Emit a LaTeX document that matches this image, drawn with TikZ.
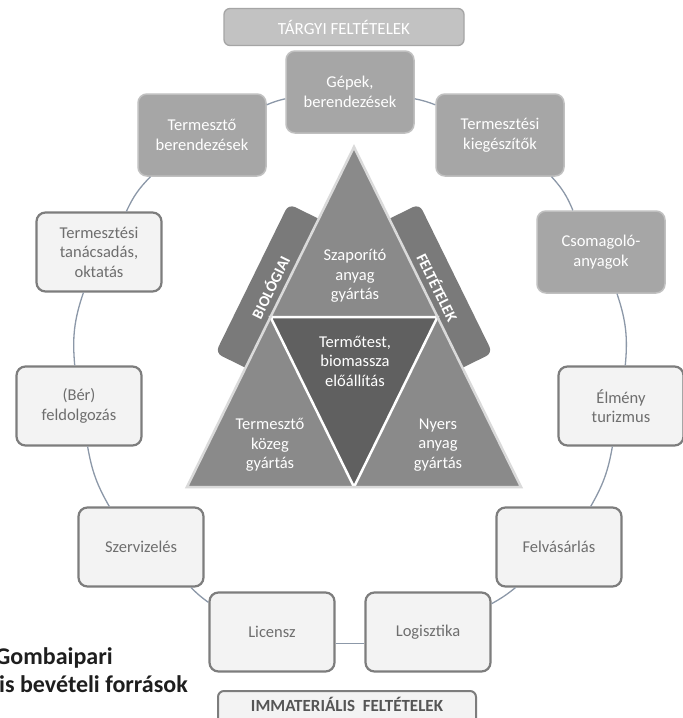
\documentclass[tikz,border=0pt]{standalone}
\usepackage{fontspec}
\setmainfont{Carlito}
\definecolor{matfill}{RGB}{166,166,166}
\definecolor{matline}{RGB}{192,192,192}
\definecolor{hdrfill}{RGB}{194,194,194}
\definecolor{hdrline}{RGB}{165,165,165}
\definecolor{imfill}{RGB}{243,243,243}
\definecolor{imline}{RGB}{125,125,125}
\definecolor{imtext}{RGB}{110,110,110}
\definecolor{imhead}{RGB}{85,85,85}
\definecolor{connc}{RGB}{140,152,168}
\definecolor{trimid}{RGB}{138,138,138}
\definecolor{tridark}{RGB}{96,96,96}
\definecolor{trioutline}{RGB}{218,218,218}
\definecolor{tabc}{RGB}{122,122,122}
\definecolor{titlec}{RGB}{30,30,30}
\newcommand{\bxfont}{\fontsize{16.5}{19.5}\selectfont}
\newcommand{\tbfont}{\fontsize{15.5}{18}\selectfont\bfseries}
\newcommand{\hdfont}{\fontsize{17}{19}\selectfont}
\newcommand{\imfont}{\fontsize{17}{19}\selectfont\bfseries}
\newcommand{\ttlfont}{\fontsize{24}{28}\selectfont\bfseries}
\begin{document}
\begin{tikzpicture}[x=1pt,y=1pt,
  mat/.style={rectangle, rounded corners=9pt, fill=matfill, draw=matline, line width=1.5pt,
    minimum width=128pt, minimum height=82pt, text=white, align=center, font=\bxfont, inner sep=2pt},
  imm/.style={rectangle, rounded corners=9pt, fill=imfill, draw=imline, line width=2.2pt,
    minimum width=125pt, minimum height=79pt, text=imtext, align=center, font=\bxfont, inner sep=2pt},
  conn/.style={draw=connc, line width=1.3pt},
  tritext/.style={text=white, align=center, font=\bxfont, inner sep=1pt},
  tabbox/.style={rectangle, rounded corners=7pt, fill=tabc, minimum width=166pt,
    minimum height=40pt, text=white, font=\tbfont, inner sep=0pt}
]
\useasboundingbox (0,0) rectangle (683,-718);
\fill[white] (0,0) rectangle (683,-718);

% side tabs behind the triangle
\node[tabbox, rotate=63.84] (biol) at (270,-287.3) {BIOLÓGIAI};
\node[tabbox, rotate=-63.84] (felt) at (438,-287.3) {FELTÉTELEK};

% triangle
\coordinate (A) at (354,-147);
\coordinate (B) at (187,-487);
\coordinate (C) at (521,-487);
\coordinate (AB) at (270.5,-317);
\coordinate (AC) at (437.5,-317);
\coordinate (BC) at (354,-487);
\fill[trimid] (A) -- (B) -- (C) -- cycle;
\fill[tridark] (AB) -- (AC) -- (BC) -- cycle;
\draw[white, line width=2.5pt, line join=miter] (AB) -- (AC) -- (BC) -- cycle;
\draw[trioutline, line width=2.5pt, line join=miter] (A) -- (B) -- (C) -- cycle;

\node[tritext] (sz) at (355,-276) {Szaporító\\anyag\\gyártás};
\node[tritext] (tt) at (355,-361) {Termőtest,\\biomassza\\előállítás};
\node[tritext] (tk) at (270,-445) {Termesztő\\közeg\\gyártás};
\node[tritext] (ny) at (438,-445) {Nyers\\anyag\\gyártás};

% header boxes
\node[rectangle, rounded corners=6pt, fill=hdrfill, draw=hdrline, line width=1.3pt,
  minimum width=240pt, minimum height=37pt, text=white, font=\hdfont] (targy) at (344,-27) {TÁRGYI FELTÉTELEK};
\node[rectangle, rounded corners=6pt, fill=imfill, draw=imline, line width=2pt,
  minimum width=258pt, anchor=north, inner xsep=4pt, inner ysep=9.5pt,
  text height=11pt, text depth=20pt, text=imhead, font=\imfont] (immat) at (347,-690) {IMMATERIÁLIS\ \ FELTÉTELEK};

% material boxes
\node[mat] (gep) at (350,-92) {Gépek,\\berendezések};
\node[mat] (tber) at (202,-135) {Termesztő\\berendezések};
\node[mat] (tkieg) at (500,-135) {Termesztési\\kiegészítők};
\node[mat] (csom) at (601,-252) {Csomagoló-\\anyagok};

% immaterial boxes
\node[imm] (tan) at (99,-252) {Termesztési\\tanácsadás,\\oktatás};
\node[imm] (ber) at (79,-406) {(Bér)\\feldolgozás};
\node[imm] (elm) at (621,-406) {Élmény\\turizmus};
\node[imm] (szerv) at (141,-547) {Szervizelés};
\node[imm] (felv) at (559,-547) {Felvásárlás};
\node[imm] (lic) at (272,-632) {Licensz};
\node[imm] (log) at (428,-632) {Logisztika};

% connectors
\draw[conn] (gep.186) to[bend right=5] (tber.25);
\draw[conn] (tber.219) to[bend right=10] (tan.56);
\draw[conn] (tan.249) to[bend right=12] (ber.96);
\draw[conn] (ber.-78) to[bend right=10] (szerv.128);
\draw[conn] (szerv.-39) to[bend right=5] (lic.155);
\draw[conn] (lic.-10) -- (log.190);
\draw[conn] (log.24) to[bend right=5] (felv.223);
\draw[conn] (felv.52) to[bend right=10] (elm.258);
\draw[conn] (elm.84) to[bend right=12] (csom.291);
\draw[conn] (csom.124) to[bend right=10] (tkieg.321);
\draw[conn] (tkieg.155) to[bend right=5] (gep.354);

% title text
\node[anchor=base west, inner sep=0pt, text=titlec, font=\ttlfont] (ttl1) at (-5,-664) {Gombaipari};
\node[anchor=base west, inner sep=0pt, text=titlec, font=\ttlfont] (ttl2) at (-1,-692) {is bevételi források};
\end{tikzpicture}
\end{document}
